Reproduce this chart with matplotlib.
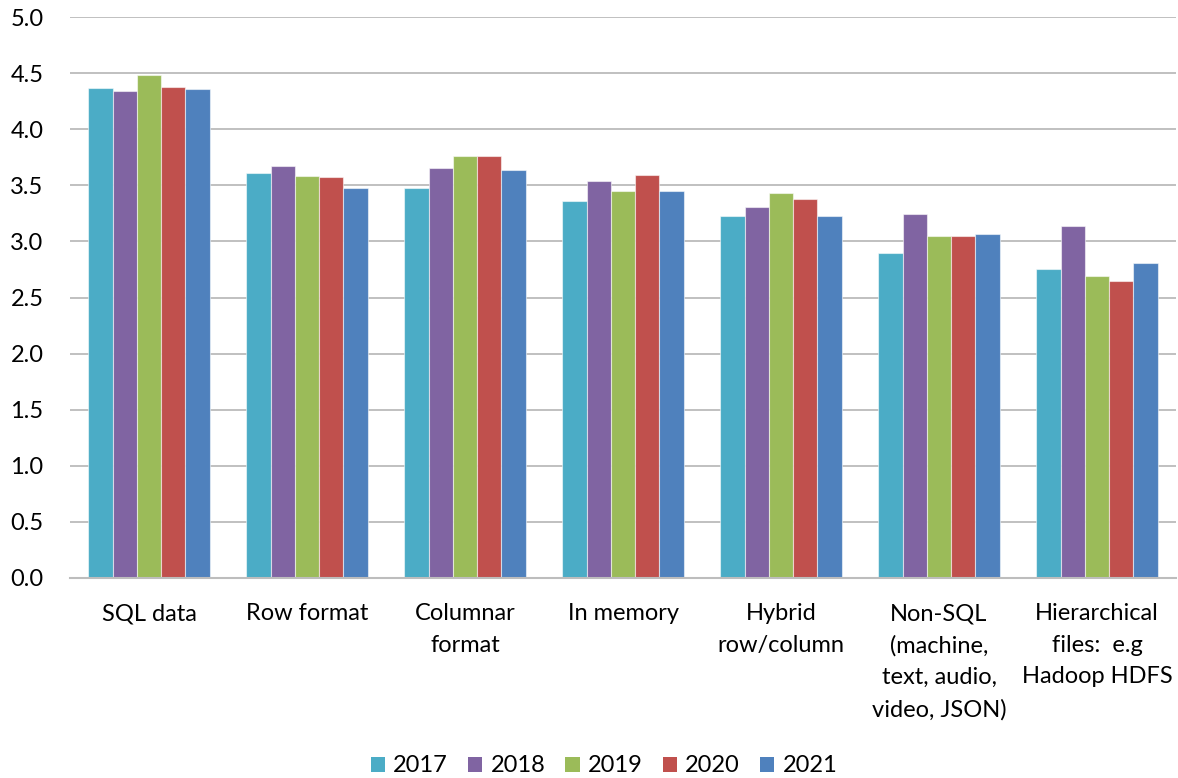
import matplotlib
matplotlib.use("Agg")
import matplotlib.pyplot as plt
from matplotlib.patches import Patch
import numpy as np

plt.rcParams['font.family'] = ['Lato', 'DejaVu Sans']

categories = [
    "SQL data",
    "Row format",
    "Columnar\nformat",
    "In memory",
    "Hybrid\nrow/column",
    "Non-SQL\n(machine,\ntext, audio,\nvideo, JSON)",
    "Hierarchical\nfiles:  e.g\nHadoop HDFS",
]
years = ["2017", "2018", "2019", "2020", "2021"]
scores_2017 = [4.37, 3.61, 3.48, 3.36, 3.23, 2.90, 2.75]
scores_2018 = [4.34, 3.67, 3.65, 3.54, 3.31, 3.24, 3.14]
scores_2019 = [4.48, 3.58, 3.76, 3.45, 3.43, 3.05, 2.69]
scores_2020 = [4.38, 3.57, 3.76, 3.59, 3.38, 3.05, 2.65]
scores_2021 = [4.36, 3.48, 3.64, 3.45, 3.23, 3.07, 2.81]
series = [scores_2017, scores_2018, scores_2019, scores_2020, scores_2021]
colors = ["#4BACC6", "#8064A2", "#9BBB59", "#C0504D", "#4F81BD"]
y_ticks = [0.0, 0.5, 1.0, 1.5, 2.0, 2.5, 3.0, 3.5, 4.0, 4.5, 5.0]

FS = 17

fig = plt.figure(figsize=(11.78, 7.78), dpi=100)
ax = fig.add_axes([70 / 1178, 1 - 578 / 778, 1106 / 1178, 561 / 778])

x = np.arange(len(categories))
bar_w = 0.154
for i, (vals, col) in enumerate(zip(series, colors)):
    offs = (i - 2) * bar_w
    ax.bar(x + offs, vals, width=bar_w, color=col, edgecolor=(1, 1, 1, 0.55),
           linewidth=0.8, zorder=3)

ax.set_xlim(-0.5, len(categories) - 0.5)
ax.set_ylim(0, 5.0)
ax.set_yticks(y_ticks)
ax.set_yticklabels([f"{v:.1f}" for v in y_ticks], fontsize=FS)
ax.set_xticks(x)
ax.set_xticklabels(categories, fontsize=FS, linespacing=1.63, va='top')
ax.tick_params(axis='y', length=0, pad=19)
ax.tick_params(axis='x', length=0, pad=18)
ax.yaxis.grid(True, color="#C0C0C0", linewidth=1.4, zorder=0)
ax.set_axisbelow(True)
for s in ["top", "right", "left"]:
    ax.spines[s].set_visible(False)
ax.spines["bottom"].set_color("#BDBDBD")
ax.spines["bottom"].set_linewidth(1.5)
ax.spines["bottom"].set_zorder(4)

handles = [Patch(facecolor=c, edgecolor='none') for c in colors]
fig.legend(handles, years, loc='center', bbox_to_anchor=(604 / 1178, 1 - 766 / 778),
           ncol=5, frameon=False, fontsize=FS, handlelength=0.6,
           handleheight=0.6, handletextpad=0.35, columnspacing=0.85)

fig.savefig("out.png", dpi=100)
